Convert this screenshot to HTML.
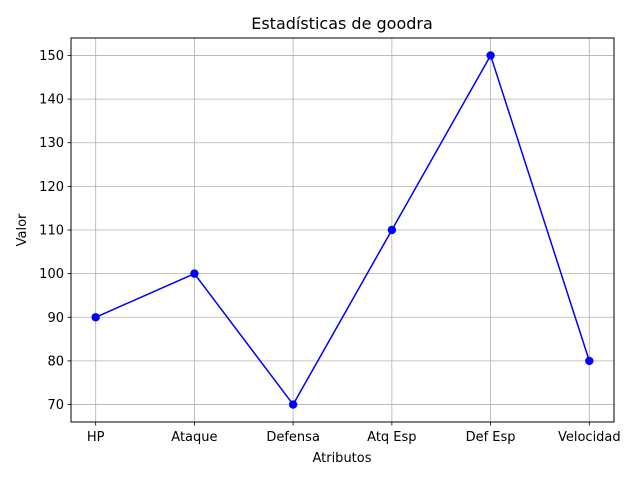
<!DOCTYPE html>
<html><head><meta charset="utf-8"><style>
body{margin:0;background:#fff;}
svg text{font-family:"DejaVu Sans","Liberation Sans",sans-serif;}
</style></head><body>
<svg id="chart" width="640" height="480" xmlns="http://www.w3.org/2000/svg">
<rect width="640" height="480" fill="#fff"/>
<text x="342" y="29" font-size="16" text-anchor="middle">Estadísticas de goodra</text>
<g id="grid"></g>
<g id="ticks"></g>
<g id="series"></g>
<rect x="71" y="38" width="543" height="384" fill="none" stroke="#000" stroke-width="1"/>
<text x="342" y="462" font-size="13" text-anchor="middle">Atributos</text>
<text transform="translate(26,230) rotate(-90)" font-size="13" text-anchor="middle">Valor</text>
</svg>
<script>
const categories=["HP","Ataque","Defensa","Atq Esp","Def Esp","Velocidad"];
const values=[90,100,70,110,150,80];
const yTicks=[70,80,90,100,110,120,130,140,150];
const L=71,R=614,T=38,B=422;
const vmin=Math.min(...values),vmax=Math.max(...values),pad=(vmax-vmin)*0.05;
const y0=vmin-pad,y1=vmax+pad;
const n=categories.length;
function xs(i){return L+(i+0.25)/(n-1+0.5)*(R-L);}
function ys(v){return B-(v-y0)/(y1-y0)*(B-T);}
const NS="http://www.w3.org/2000/svg";
function mk(tag,attrs,parent){const e=document.createElementNS(NS,tag);for(const k in attrs)e.setAttribute(k,attrs[k]);parent.appendChild(e);return e;}
const grid=document.getElementById('grid'),ticks=document.getElementById('ticks'),ser=document.getElementById('series');
categories.forEach((c,i)=>{
  const x=xs(i);
  const g=mk('line',{x1:x,x2:x,y1:T,y2:B,stroke:'#b0b0b0','stroke-width':0.8},grid);
  
  
  const t=mk('line',{x1:x,x2:x,y1:B,y2:B+3.5,stroke:'#000','stroke-width':0.8},ticks);
  
  
  const l=mk('text',{x:x,y:B+19,'font-size':13,'text-anchor':'middle'},ticks);
  l.textContent=c;
  
  
});
yTicks.forEach(v=>{
  const y=ys(v);
  const g=mk('line',{x1:L,x2:R,y1:y,y2:y,stroke:'#b0b0b0','stroke-width':0.8},grid);
  
  
  const t=mk('line',{x1:L-3.5,x2:L,y1:y,y2:y,stroke:'#000','stroke-width':0.8},ticks);
  
  
  const l=mk('text',{x:L-7,y:y+4.5,'font-size':13,'text-anchor':'end'},ticks);
  l.textContent=v;
  
  
});
const pts=values.map((v,i)=>xs(i)+','+ys(v)).join(' ');
const pl=mk('polyline',{points:pts,fill:'none',stroke:'#0000ff','stroke-width':1.5},ser);


values.forEach((v,i)=>{
  const c=mk('circle',{cx:xs(i),cy:ys(v),r:4.2,fill:'#0000ff'},ser);
  
  
});
</script>
</body></html>
